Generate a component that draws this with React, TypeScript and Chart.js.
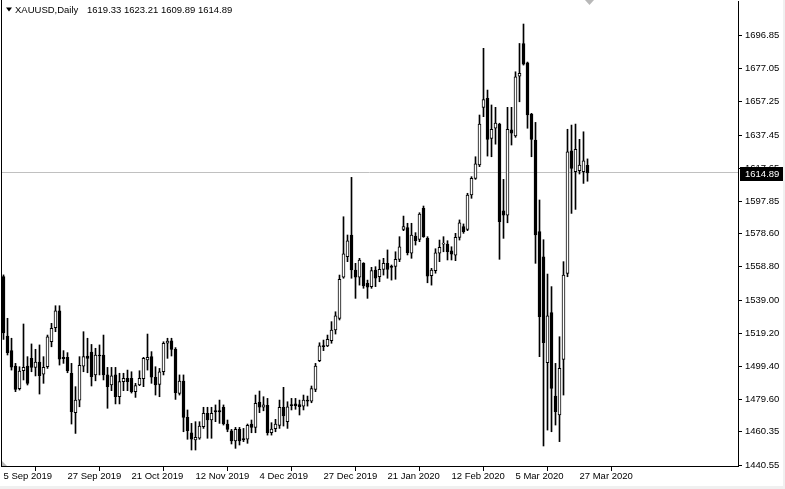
import { useEffect, useRef } from "react";
import { Chart, registerables } from "chart.js";

Chart.register(...registerables);

const opens = [
  1553.0, 1517.5, 1508.8, 1499.6, 1486.1, 1496.8, 1499.6, 1504.2, 1498.8, 1502.0,
  1494.7, 1499.2, 1514.1, 1522.5, 1532.5, 1504.8, 1504.8, 1495.2, 1471.8, 1479.3,
  1499.6, 1505.6, 1508.0, 1494.3, 1506.2, 1506.2, 1494.3, 1488.3, 1494.3, 1481.3,
  1490.3, 1492.3, 1492.3, 1484.3, 1488.3, 1492.0, 1503.2, 1505.2, 1492.9, 1488.7,
  1496.2, 1513.2, 1514.7, 1509.6, 1483.3, 1490.7, 1469.0, 1459.8, 1455.5, 1456.5,
  1463.4, 1471.4, 1467.4, 1473.0, 1473.0, 1474.9, 1465.0, 1461.0, 1455.0, 1461.8,
  1456.3, 1455.9, 1465.0, 1463.0, 1478.1, 1475.0, 1476.1, 1459.8, 1462.2, 1464.2,
  1475.0, 1466.4, 1476.6, 1477.0, 1476.6, 1475.7, 1479.3, 1478.6, 1485.7, 1502.8,
  1511.6, 1511.6, 1514.7, 1521.1, 1528.1, 1552.6, 1564.8, 1577.8, 1556.9, 1552.6,
  1560.9, 1548.9, 1547.0, 1556.9, 1552.9, 1557.3, 1560.9, 1559.3, 1559.0, 1563.3,
  1581.2, 1582.3, 1566.9, 1577.2, 1575.2, 1593.7, 1575.8, 1553.5, 1556.5, 1566.9,
  1572.4, 1572.4, 1568.4, 1565.8, 1576.4, 1582.8, 1581.2, 1601.7, 1611.6, 1619.6,
  1653.9, 1659.4, 1635.5, 1641.5, 1644.0, 1592.3, 1589.7, 1640.5, 1636.9, 1672.6,
  1692.1, 1680.6, 1650.0, 1634.5, 1579.8, 1564.8, 1501.6, 1531.5, 1481.7, 1470.4,
  1503.6, 1554.9, 1628.1, 1615.6, 1616.2, 1615.6, 1619.33,
];
const highs = [
  1554.0, 1528.1, 1516.2, 1501.2, 1499.2, 1524.7, 1505.2, 1512.8, 1509.6, 1512.2,
  1505.2, 1518.1, 1525.1, 1535.6, 1535.6, 1508.8, 1507.6, 1501.2, 1487.3, 1505.2,
  1520.1, 1516.2, 1512.5, 1510.2, 1512.2, 1518.1, 1498.8, 1498.8, 1498.8, 1495.3,
  1495.3, 1497.2, 1496.2, 1489.3, 1496.8, 1504.8, 1518.7, 1508.2, 1499.2, 1498.2,
  1514.1, 1516.2, 1516.2, 1510.6, 1494.3, 1494.3, 1473.4, 1465.4, 1466.4, 1466.4,
  1475.0, 1475.0, 1475.0, 1476.4, 1479.3, 1476.4, 1467.4, 1461.8, 1463.0, 1463.0,
  1462.4, 1465.0, 1467.4, 1482.3, 1484.7, 1481.3, 1480.3, 1465.8, 1467.8, 1479.3,
  1486.9, 1478.3, 1480.3, 1480.3, 1479.3, 1482.3, 1481.7, 1487.7, 1501.2, 1513.5,
  1515.1, 1518.1, 1526.1, 1532.0, 1553.9, 1588.7, 1577.8, 1612.2, 1560.9, 1563.9,
  1561.3, 1550.9, 1558.5, 1558.9, 1562.9, 1563.9, 1568.9, 1559.9, 1567.8, 1576.8,
  1589.1, 1584.8, 1584.8, 1579.2, 1591.1, 1595.1, 1576.8, 1557.9, 1569.6, 1574.8,
  1576.8, 1574.4, 1570.8, 1578.8, 1586.8, 1584.4, 1602.7, 1612.6, 1624.5, 1649.4,
  1689.2, 1664.3, 1655.4, 1654.0, 1644.5, 1611.0, 1654.0, 1654.0, 1675.2, 1692.1,
  1703.7, 1681.0, 1650.4, 1645.0, 1598.7, 1575.0, 1554.5, 1547.0, 1501.2, 1517.1,
  1561.9, 1640.9, 1643.4, 1644.0, 1634.9, 1639.4, 1623.21,
];
const lows = [
  1515.5, 1506.2, 1497.2, 1484.3, 1485.3, 1491.3, 1488.3, 1496.2, 1493.7, 1482.9,
  1489.3, 1498.2, 1511.1, 1520.1, 1500.2, 1501.2, 1495.6, 1465.0, 1459.4, 1475.3,
  1496.2, 1495.6, 1487.7, 1490.8, 1494.3, 1491.3, 1474.4, 1484.9, 1477.0, 1477.0,
  1484.9, 1484.9, 1483.5, 1480.9, 1487.9, 1487.3, 1497.2, 1489.3, 1482.3, 1481.3,
  1494.3, 1504.2, 1505.6, 1479.7, 1482.3, 1460.4, 1455.9, 1449.5, 1449.5, 1455.9,
  1462.4, 1456.5, 1456.5, 1466.4, 1465.4, 1464.4, 1460.4, 1453.1, 1450.5, 1452.5,
  1454.5, 1453.5, 1459.8, 1459.8, 1471.8, 1472.9, 1458.4, 1458.4, 1460.4, 1462.4,
  1463.8, 1462.4, 1473.4, 1473.8, 1470.4, 1473.4, 1475.7, 1477.7, 1484.3, 1502.2,
  1508.8, 1511.2, 1513.2, 1518.7, 1527.1, 1552.0, 1561.9, 1552.0, 1540.0, 1547.9,
  1546.0, 1540.0, 1546.0, 1547.0, 1549.9, 1553.9, 1552.0, 1550.9, 1551.4, 1561.9,
  1580.4, 1565.9, 1563.9, 1571.8, 1573.8, 1576.4, 1549.3, 1547.9, 1555.0, 1561.9,
  1567.8, 1562.9, 1562.9, 1562.5, 1574.8, 1578.8, 1580.4, 1599.7, 1611.0, 1618.6,
  1648.4, 1624.9, 1624.5, 1632.0, 1563.3, 1575.8, 1585.1, 1631.5, 1636.1, 1657.3,
  1679.2, 1641.5, 1624.5, 1560.9, 1505.2, 1451.9, 1461.4, 1460.4, 1464.4, 1454.5,
  1482.3, 1552.9, 1590.7, 1593.1, 1614.2, 1608.6, 1609.89,
];
const closes = [
  1519.3, 1507.6, 1498.9, 1485.7, 1496.6, 1498.8, 1489.3, 1498.8, 1502.0, 1493.9,
  1498.8, 1517.1, 1522.1, 1532.5, 1503.7, 1504.0, 1496.8, 1472.4, 1479.3, 1500.0,
  1505.2, 1504.2, 1493.2, 1506.2, 1505.6, 1494.3, 1487.3, 1493.7, 1481.3, 1490.3,
  1492.3, 1490.3, 1484.3, 1487.9, 1492.3, 1504.2, 1504.8, 1492.9, 1488.3, 1496.2,
  1513.2, 1514.5, 1509.6, 1483.7, 1490.7, 1469.0, 1461.0, 1455.9, 1457.1, 1463.8,
  1471.4, 1467.4, 1471.4, 1472.2, 1472.2, 1465.0, 1461.8, 1455.0, 1461.8, 1455.0,
  1455.5, 1464.2, 1463.0, 1477.4, 1475.0, 1476.4, 1459.8, 1462.0, 1465.0, 1475.0,
  1469.8, 1475.3, 1476.0, 1476.0, 1475.3, 1479.3, 1478.6, 1486.1, 1499.6, 1511.6,
  1511.2, 1515.5, 1521.1, 1529.5, 1551.4, 1566.5, 1574.4, 1556.9, 1552.6, 1562.9,
  1547.4, 1546.6, 1556.5, 1552.0, 1557.3, 1560.9, 1557.3, 1558.5, 1563.3, 1570.8,
  1582.8, 1567.2, 1577.8, 1574.4, 1590.3, 1576.8, 1553.3, 1556.9, 1567.2, 1570.4,
  1572.8, 1567.8, 1566.4, 1576.4, 1585.1, 1579.8, 1601.7, 1611.6, 1620.2, 1644.0,
  1658.6, 1634.9, 1640.9, 1644.6, 1585.7, 1589.7, 1640.9, 1638.5, 1672.2, 1674.3,
  1679.8, 1649.4, 1634.9, 1577.8, 1529.0, 1513.5, 1529.5, 1486.3, 1472.4, 1498.2,
  1553.9, 1627.5, 1617.6, 1628.9, 1619.6, 1622.1, 1614.89,
];

const dateTickIndex = [0, 16, 32, 48, 64, 80, 96, 112, 128, 144];
const dateTickLabels = [
  "5 Sep 2019", "27 Sep 2019", "21 Oct 2019", "12 Nov 2019", "4 Dec 2019",
  "27 Dec 2019", "21 Jan 2020", "12 Feb 2020", "5 Mar 2020", "27 Mar 2020",
];
const priceTicks = [
  1440.55, 1460.35, 1479.6, 1499.4, 1519.2, 1539.0, 1558.8, 1578.6, 1597.85,
  1617.65, 1637.45, 1657.25, 1677.05, 1696.85,
];
const symbolTitle = "XAUUSD,Daily";
const lastBar = { open: 1619.33, high: 1623.21, low: 1609.89, close: 1614.89 };
const lastPrice = 1614.89;

const FONT = "'Liberation Sans', Arial, sans-serif";

export default function App() {
  const ref = useRef<HTMLCanvasElement>(null);

  useEffect(() => {
    const canvas = ref.current;
    if (!canvas) return;
    const idx = closes.map((_, i) => i);
    const bodies = idx.map((i) => ({ x: i, y: [opens[i], closes[i]] }));
    const wicks = idx.map((i) => ({ x: i, y: [lows[i], highs[i]] }));
    const bodyColors = idx.map((i) => (closes[i] >= opens[i] ? "#ffffff" : "#000000"));

    const overlay = {
      id: "mt4overlay",
      beforeDraw(chart: any) {
        const ctx = chart.ctx;
        ctx.save();
        ctx.fillStyle = "#ffffff";
        ctx.fillRect(0, 0, chart.width, chart.height);
        ctx.fillStyle = "#f0f0f0";
        ctx.fillRect(0, 486, chart.width, chart.height - 486);
        ctx.fillRect(783, 0, chart.width - 783, chart.height);
        ctx.restore();
      },
      beforeDatasetsDraw(chart: any) {
        const ctx = chart.ctx;
        const ca = chart.chartArea;
        const y = Math.floor(chart.scales.y.getPixelForValue(lastPrice)) + 0.5;
        ctx.save();
        ctx.strokeStyle = "#c0c0c0";
        ctx.lineWidth = 1;
        ctx.beginPath();
        ctx.moveTo(ca.left, y);
        ctx.lineTo(ca.right, y);
        ctx.stroke();
        ctx.restore();
      },
      afterDraw(chart: any) {
        const ctx = chart.ctx;
        const ca = chart.chartArea;
        ctx.save();
        // left frame
        ctx.fillStyle = "#000000";
        ctx.fillRect(1, 0, 1, ca.bottom + 1);
        // header
        ctx.beginPath();
        ctx.moveTo(6, 7.5);
        ctx.lineTo(12, 7.5);
        ctx.lineTo(9, 11.5);
        ctx.closePath();
        ctx.fill();
        ctx.font = `9.5px ${FONT}`;
        ctx.textBaseline = "middle";
        ctx.textAlign = "left";
        ctx.fillText(symbolTitle, 15, 10);
        const nums = [lastBar.open, lastBar.high, lastBar.low, lastBar.close]
          .map((v) => v.toFixed(2))
          .join(" ");
        ctx.fillText(nums, 87, 10);
        // price label on axis
        const py = Math.floor(chart.scales.y.getPixelForValue(lastPrice));
        ctx.fillStyle = "#000000";
        ctx.fillRect(ca.right + 2, py - 5, 43, 14);
        ctx.fillStyle = "#ffffff";
        ctx.fillText(lastPrice.toFixed(2), ca.right + 7, py + 2);
        // shift marker top
        ctx.fillStyle = "#b8b8b8";
        ctx.beginPath();
        ctx.moveTo(585, 0);
        ctx.lineTo(594, 0);
        ctx.lineTo(589.5, 5);
        ctx.closePath();
        ctx.fill();
        // scale marker bottom-left
        ctx.beginPath();
        ctx.moveTo(2, 461);
        ctx.lineTo(2, 466);
        ctx.lineTo(7, 466);
        ctx.closePath();
        ctx.fill();
        ctx.restore();
      },
    };

    const chart = new Chart(canvas, {
      type: "bar",
      data: {
        datasets: [
          {
            data: bodies as any,
            backgroundColor: bodyColors,
            borderColor: "#000000",
            borderWidth: 1,
            borderSkipped: false,
            barThickness: 3,
            grouped: false,
            minBarLength: 1,
            order: 0,
          } as any,
          {
            data: wicks as any,
            backgroundColor: "#000000",
            borderWidth: 0,
            barThickness: 1,
            grouped: false,
            order: 1,
          } as any,
        ],
      },
      options: {
        responsive: false,
        animation: false,
        events: [],
        devicePixelRatio: 1,
        layout: { padding: { left: 1, top: 1, right: 0, bottom: 0 } },
        plugins: { legend: { display: false }, tooltip: { enabled: false } },
        scales: {
          x: {
            type: "linear",
            min: -0.625,
            max: 183.625,
            offset: false,
            grid: {
              drawOnChartArea: false,
              drawTicks: true,
              tickLength: 5,
              color: "#000000",
              tickColor: "#000000",
            },
            border: { display: true, color: "#000000" },
            ticks: {
              autoSkip: false,
              maxRotation: 0,
              minRotation: 0,
              align: "start",
              padding: 0,
              color: "#000000",
              font: { family: FONT, size: 9.5 },
              callback: (value: any) => {
                const k = dateTickIndex.indexOf(Number(value));
                return k >= 0 ? dateTickLabels[k] : "";
              },
            },
            afterBuildTicks: (scale: any) => {
              scale.ticks = dateTickIndex.map((v) => ({ value: v }));
            },
            afterFit: (scale: any) => {
              scale.height = 23;
              scale.paddingLeft = 0;
              scale.paddingRight = 0;
            },
          },
          y: {
            type: "linear",
            position: "right",
            min: 1439.96,
            max: 1717.44,
            grid: {
              drawOnChartArea: false,
              drawTicks: true,
              tickLength: 4,
              color: "#000000",
              tickColor: "#000000",
            },
            border: { display: true, color: "#000000" },
            ticks: {
              autoSkip: false,
              padding: 3,
              color: "#000000",
              font: { family: FONT, size: 9.5 },
              callback: (value: any) => Number(value).toFixed(2),
            },
            afterBuildTicks: (scale: any) => {
              scale.ticks = priceTicks.map((v) => ({ value: v }));
            },
            afterFit: (scale: any) => {
              scale.width = 47;
              scale.paddingTop = 0;
              scale.paddingBottom = 0;
            },
          },
        },
      } as any,
      plugins: [overlay],
    });

    return () => chart.destroy();
  }, []);

  return (
    <canvas
      ref={ref}
      width={785}
      height={489}
      style={{ position: "fixed", left: 0, top: 0, display: "block" }}
    />
  );
}
